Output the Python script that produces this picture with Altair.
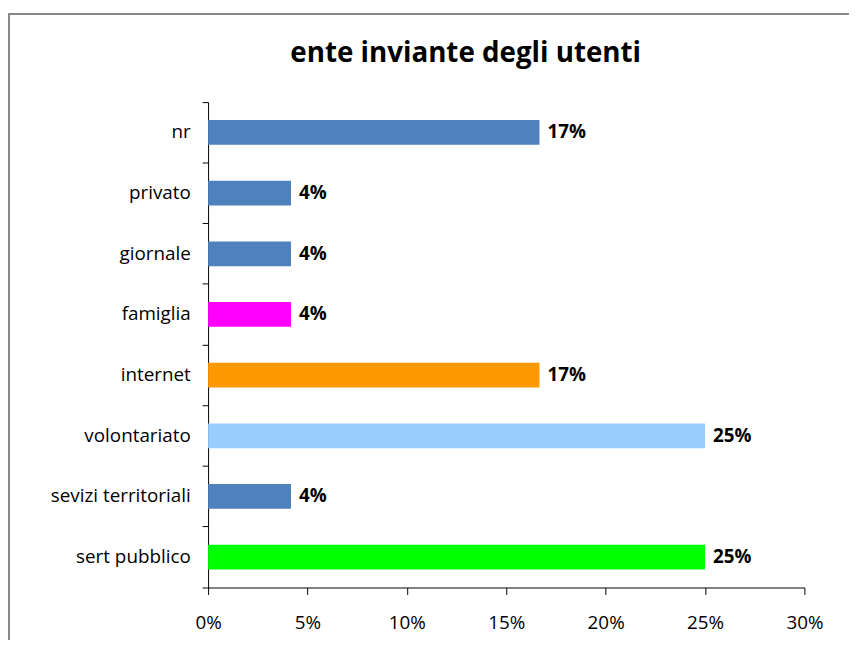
import altair as alt
import pandas as pd

categories = ["nr", "privato", "giornale", "famiglia", "internet",
              "volontariato", "sevizi territoriali", "sert pubblico"]
values = [0.1667, 0.0417, 0.0417, 0.0417, 0.1667, 0.25, 0.0417, 0.25]
labels = ["17%", "4%", "4%", "4%", "17%", "25%", "4%", "25%"]
colors = ["#4F81BD", "#4F81BD", "#4F81BD", "#FF00FF", "#FF9900",
          "#99CCFF", "#4F81BD", "#00FF00"]
x_ticks = [0, 0.05, 0.10, 0.15, 0.20, 0.25, 0.30]

df = pd.DataFrame({"cat": categories, "val": values, "lab": labels})

FONT = "Open Sans"
W, H = 602, 490

y_enc = alt.Y(
    "cat:N", sort=categories, title=None,
    scale=alt.Scale(paddingInner=0, paddingOuter=0),
    axis=alt.Axis(labelFontSize=19, labelFont=FONT, labelColor="black",
                  labelPadding=12, tickSize=6, tickColor="black",
                  domainColor="black", bandPosition=1, tickExtra=True,
                  grid=False),
)
x_enc = alt.X(
    "val:Q", title=None,
    scale=alt.Scale(domain=[0, 0.30], nice=False),
    axis=alt.Axis(values=x_ticks, format=".0%", labelFontSize=19,
                  labelFont=FONT, labelColor="black", labelPadding=19,
                  labelFlush=False, tickSize=7, tickColor="black",
                  domainColor="black", grid=False),
)

bars = alt.Chart(df).mark_bar(size=25).encode(
    y=y_enc, x=x_enc,
    color=alt.Color("cat:N", scale=alt.Scale(domain=categories, range=colors),
                    legend=None),
)

text = alt.Chart(df).mark_text(align="left", baseline="middle", dx=8,
                               fontSize=19, fontWeight="bold", font=FONT,
                               color="black").encode(
    y=alt.Y("cat:N", sort=categories), x="val:Q", text="lab:N")

border_top = alt.Chart(df).mark_rule(color="#888888", strokeWidth=2).encode(
    x=alt.value(-202), x2=alt.value(650), y=alt.value(-89))
border_left = alt.Chart(df).mark_rule(color="#888888", strokeWidth=2).encode(
    x=alt.value(-201), y=alt.value(-90), y2=alt.value(560))

chart = alt.layer(border_top, border_left, bars, text).properties(
    width=W, height=H,
    title=alt.TitleParams("ente inviante degli utenti", font=FONT,
                          fontSize=28, fontWeight="bold", color="black",
                          anchor="middle", frame="group", dx=-41,
                          offset=0, dy=57),
    autosize=alt.AutoSizeParams(type="none"),
    padding={"left": 202, "top": 92, "right": 45, "bottom": 50},
).configure_view(stroke=None)

chart.save("out.html", embed_options={"renderer": "svg", "actions": False})
